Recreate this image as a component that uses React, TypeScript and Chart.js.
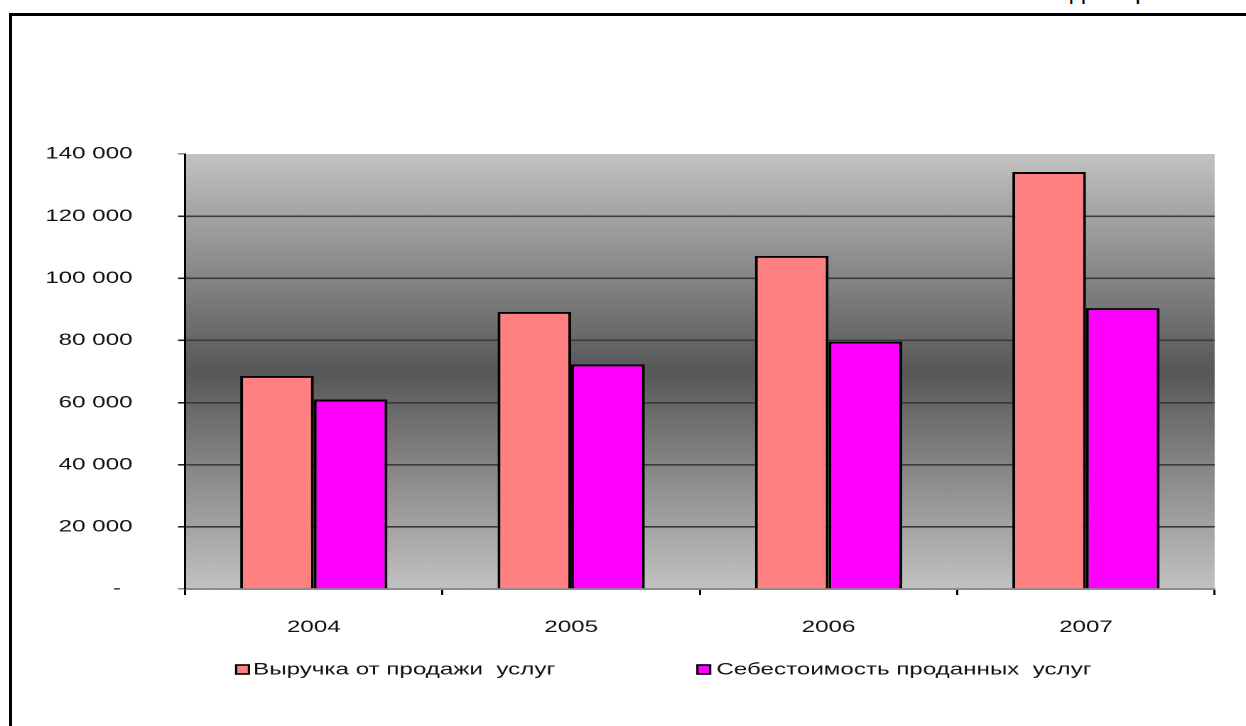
import React, { useEffect, useRef } from "react";
import { Chart, registerables } from "chart.js";

Chart.register(...registerables);

const categories = ["2004", "2005", "2006", "2007"];
const revenue = [68600, 89200, 107200, 134200];
const cost = [61000, 72300, 79600, 90400];
const seriesLabels = ["Выручка от продажи  услуг", "Себестоимость проданных  услуг"];
const seriesColors = ["#ff8080", "#ff00ff"];
const yMin = 0;
const yMax = 140000;
const yStep = 20000;

const S = 1.42; // horizontal stretch of the reference rendering
const W = Math.round(1246 / S);
const H = 726;
const FONT = '"Liberation Sans", Arial, sans-serif';

function fmt(v: number): string {
  if (v === 0) return "- \u2009";
  return String(v).replace(/\B(?=(\d{3})+(?!\d))/g, " ");
}

const bgPlugin = {
  id: "bgGrad",
  beforeDraw(chart: any) {
    const { ctx, chartArea: a } = chart;
    const g = ctx.createLinearGradient(0, a.top, 0, a.bottom);
    g.addColorStop(0, "#c2c2c2");
    g.addColorStop(0.5, "#575757");
    g.addColorStop(1, "#c2c2c2");
    ctx.save();
    ctx.fillStyle = g;
    ctx.fillRect(a.left, a.top, a.right - a.left, a.bottom - a.top);
    ctx.restore();
  },
};

const legendPlugin = {
  id: "customLegend",
  afterDraw(chart: any) {
    const { ctx } = chart;
    const items = [
      { box: 236 / S, text: 253 / S },
      { box: 697 / S, text: 716 / S },
    ];
    ctx.save();
    ctx.font = `17px ${FONT}`;
    ctx.textBaseline = "middle";
    chart.data.datasets.forEach((ds: any, i: number) => {
      const it = items[i];
      ctx.fillStyle = ds.backgroundColor;
      ctx.fillRect(it.box, 665, 9, 9);
      ctx.lineWidth = 1.6;
      ctx.strokeStyle = "#000";
      ctx.strokeRect(it.box, 665, 9, 9);
      ctx.fillStyle = "#111";
      ctx.fillText(ds.label, it.text, 670);
    });
    ctx.restore();
  },
};

export default function App() {
  const ref = useRef<HTMLCanvasElement | null>(null);

  useEffect(() => {
    if (!ref.current) return;
    const chart = new Chart(ref.current, {
      type: "bar",
      data: {
        labels: categories,
        datasets: [
          {
            label: seriesLabels[0],
            data: revenue,
            backgroundColor: seriesColors[0],
            borderColor: "#000",
            borderWidth: 2,
            borderSkipped: "start",
          },
          {
            label: seriesLabels[1],
            data: cost,
            backgroundColor: seriesColors[1],
            borderColor: "#000",
            borderWidth: 2,
            borderSkipped: "start",
          },
        ],
      },
      options: {
        animation: false,
        responsive: false,
        devicePixelRatio: 2,
        layout: {
          padding: { top: 154, right: W - 1214 / S, bottom: 0, left: 0 },
        },
        datasets: {
          bar: { categoryPercentage: 0.572, barPercentage: 1.0 },
        },
        plugins: {
          legend: { display: false },
          title: { display: false },
          tooltip: { enabled: false },
        },
        scales: {
          x: {
            afterFit(scale: any) {
              scale.height = H - 589;
            },
            grid: {
              offset: true,
              drawOnChartArea: false,
              drawTicks: true,
              tickLength: 6,
              color: "#000",
              tickColor: "#000",
              lineWidth: 1.5,
            },
            border: { display: true, color: "#8c8c8c", width: 2 },
            ticks: {
              color: "#111",
              padding: 22,
              font: { family: FONT, size: 17 },
            },
          },
          y: {
            min: yMin,
            max: yMax,
            afterFit(scale: any) {
              scale.width = 185 / S;
            },
            ticks: {
              stepSize: yStep,
              color: "#111",
              padding: 32,
              font: { family: FONT, size: 17 },
              callback: (v: any) => fmt(Number(v)),
            },
            grid: {
              drawTicks: true,
              tickLength: 5,
              lineWidth: 1.6,
              color: (c: any) =>
                c.tick && (c.tick.value === 0 || c.tick.value === yMax)
                  ? "rgba(0,0,0,0)"
                  : "#3a3a3a",
              tickColor: (c: any) =>
                c.tick && (c.tick.value === 0 || c.tick.value === yMax) ? "#8c8c8c" : "#222",
            },
            border: { display: true, color: "#000", width: 1.5 },
          },
        },
      },
      plugins: [bgPlugin, legendPlugin],
    });
    return () => chart.destroy();
  }, []);

  return (
    <div
      style={{
        position: "fixed",
        left: 0,
        top: 0,
        width: 1246,
        height: 726,
        overflow: "hidden",
        background: "#fff",
      }}
    >
      <div
        style={{
          position: "absolute",
          left: 0,
          top: 0,
          height: 5,
          width: 1246,
          overflow: "hidden",
        }}
      >
        <span
          style={{
            position: "absolute",
            left: 1070,
            top: -15,
            font: `18px/18px ${FONT}`,
            color: "#000",
            transform: `scaleX(${S})`,
            transformOrigin: "0 0",
            whiteSpace: "pre",
          }}
        >
          д
        </span>
        <span
          style={{
            position: "absolute",
            left: 1135,
            top: -15,
            font: `18px/18px ${FONT}`,
            color: "#000",
            transform: `scaleX(${S})`,
            transformOrigin: "0 0",
            whiteSpace: "pre",
          }}
        >
          р
        </span>
      </div>
      <div
        style={{
          position: "absolute",
          left: 9,
          top: 13,
          width: 1400,
          height: 900,
          border: "3px solid #000",
          boxSizing: "border-box",
        }}
      />
      <canvas
        ref={ref}
        width={W}
        height={H}
        style={{
          position: "absolute",
          left: 0,
          top: 0,
          transform: `scaleX(${1246 / W})`,
          transformOrigin: "0 0",
        }}
      />
    </div>
  );
}
